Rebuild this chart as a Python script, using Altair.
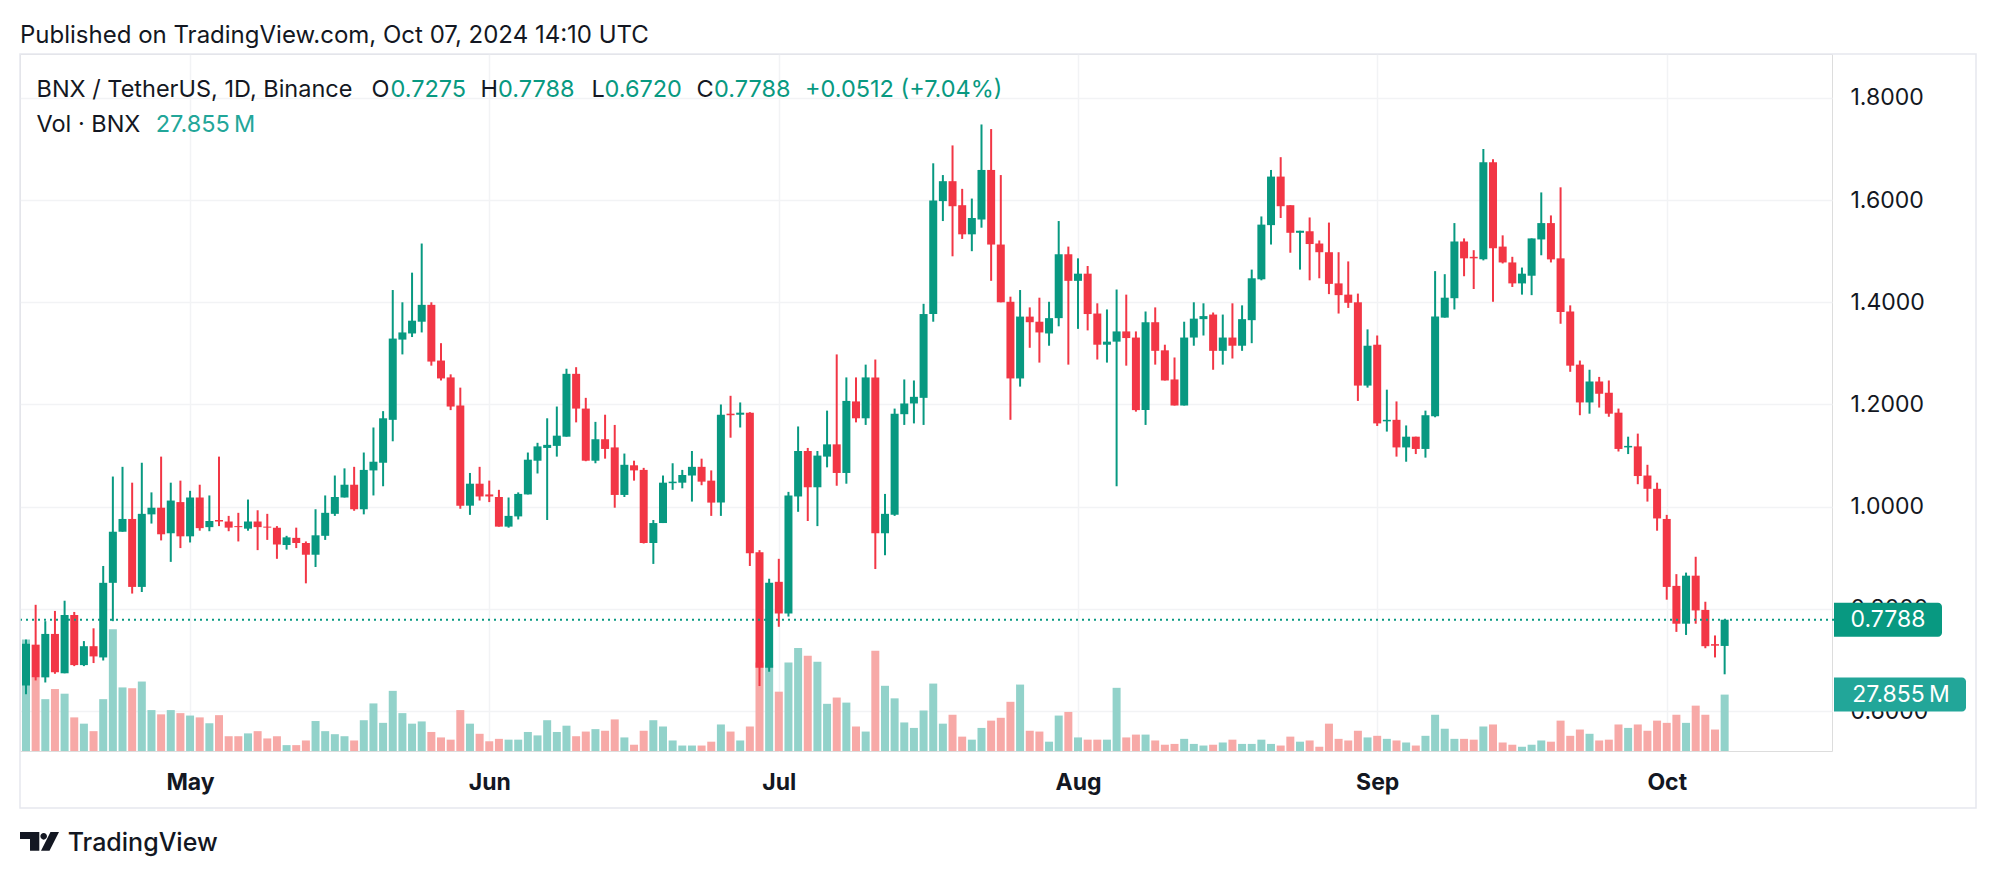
import altair as alt
import pandas as pd
from datetime import datetime, timezone

# ---------------- data (daily candles, BNX/USDT, Binance) ----------------
START = "2024-04-14"
open_ = [0.650,0.730,0.666,0.751,0.674,0.788,0.690,0.727,0.705,0.851,
         0.951,0.976,0.843,0.985,0.998,0.948,1.009,0.942,1.018,0.960,
         0.974,0.971,0.962,0.957,0.971,0.961,0.959,0.925,0.939,0.929,
         0.906,0.943,0.986,1.018,1.043,0.995,1.071,1.086,1.170,1.327,
         1.339,1.362,1.395,1.286,1.253,1.198,1.002,1.045,1.024,1.019,
         0.961,0.981,1.024,1.090,1.115,1.119,1.137,1.260,1.192,1.090,
         1.132,1.116,1.023,1.081,1.072,0.929,0.968,1.046,1.047,1.061,
         1.078,1.051,1.008,1.182,1.180,1.184,0.911,0.685,0.853,0.791,
         1.020,1.109,1.038,1.098,1.122,1.066,1.206,1.173,1.253,0.948,
         0.984,1.181,1.202,1.213,1.377,1.598,1.637,1.590,1.533,1.562,
         1.659,1.513,1.401,1.251,1.372,1.362,1.339,1.369,1.494,1.442,
         1.456,1.378,1.317,1.323,1.343,1.331,1.189,1.361,1.306,1.249,
         1.198,1.331,1.367,1.376,1.305,1.331,1.315,1.365,1.445,1.551,
         1.646,1.590,1.536,1.539,1.515,1.498,1.437,1.415,1.400,1.237,
         1.317,1.167,1.170,1.116,1.137,1.113,1.177,1.370,1.408,1.519,
         1.489,1.484,1.674,1.509,1.478,1.437,1.452,1.523,1.555,1.486,
         1.382,1.278,1.204,1.245,1.223,1.184,1.116,1.118,1.061,1.035,
         0.976,0.845,0.771,0.865,0.798,0.731,0.7275]
high = [0.740,0.808,0.776,0.796,0.816,0.794,0.737,0.762,0.884,1.059,
        1.078,1.047,1.086,1.028,1.098,1.047,1.051,1.031,1.043,1.022,
        1.098,0.982,0.988,1.014,0.993,0.986,0.962,0.943,0.959,0.932,
        0.995,1.022,1.061,1.075,1.078,1.106,1.155,1.187,1.424,1.400,
        1.458,1.515,1.400,1.320,1.259,1.233,1.066,1.078,1.051,1.033,
        1.018,1.028,1.106,1.125,1.173,1.196,1.270,1.273,1.213,1.166,
        1.180,1.160,1.104,1.090,1.076,0.974,1.061,1.085,1.072,1.109,
        1.094,1.071,1.200,1.217,1.204,1.185,0.915,0.859,0.898,1.029,
        1.157,1.115,1.109,1.188,1.298,1.253,1.253,1.278,1.288,1.025,
        1.192,1.249,1.247,1.397,1.672,1.649,1.707,1.622,1.603,1.748,
        1.739,1.649,1.411,1.424,1.390,1.409,1.401,1.559,1.509,1.486,
        1.471,1.398,1.386,1.425,1.415,1.343,1.382,1.390,1.317,1.292,
        1.362,1.400,1.398,1.380,1.376,1.398,1.394,1.464,1.568,1.659,
        1.684,1.590,1.540,1.566,1.521,1.556,1.498,1.480,1.417,1.347,
        1.335,1.229,1.206,1.159,1.137,1.188,1.461,1.455,1.555,1.525,
        1.502,1.700,1.680,1.531,1.489,1.468,1.525,1.615,1.570,1.625,
        1.394,1.286,1.268,1.254,1.247,1.192,1.137,1.143,1.082,1.047,
        0.984,0.868,0.871,0.902,0.814,0.748,0.7788]
low = [0.633,0.660,0.656,0.673,0.674,0.688,0.688,0.694,0.699,0.776,
       0.951,0.830,0.833,0.967,0.934,0.892,0.919,0.930,0.953,0.952,
       0.962,0.952,0.932,0.953,0.915,0.935,0.898,0.916,0.919,0.850,
       0.882,0.935,0.982,1.018,0.992,0.985,1.022,1.040,1.128,1.298,
       1.332,1.341,1.276,1.247,1.189,0.996,0.984,1.012,1.009,0.961,
       0.959,0.975,1.024,1.065,0.974,1.098,1.137,1.165,1.089,1.085,
       1.094,0.998,1.019,1.051,0.928,0.888,0.968,1.033,1.036,1.010,
       1.042,0.982,0.982,1.135,1.155,0.884,0.649,0.677,0.765,0.785,
       0.990,0.972,0.962,1.077,1.041,1.045,1.165,1.160,0.878,0.905,
       0.982,1.160,1.163,1.160,1.362,1.559,1.490,1.524,1.500,1.546,
       1.442,1.400,1.170,1.235,1.311,1.282,1.315,1.353,1.278,1.348,
       1.345,1.288,1.282,1.040,1.276,1.186,1.160,1.278,1.247,1.198,
       1.198,1.315,1.335,1.268,1.278,1.290,1.305,1.320,1.443,1.513,
       1.565,1.497,1.464,1.443,1.447,1.416,1.378,1.389,1.207,1.233,
       1.158,1.147,1.098,1.088,1.103,1.096,1.175,1.370,1.386,1.451,
       1.426,1.482,1.401,1.476,1.430,1.415,1.414,1.492,1.478,1.358,
       1.264,1.179,1.182,1.194,1.176,1.108,1.103,1.044,1.010,0.953,
       0.818,0.755,0.749,0.771,0.723,0.705,0.6720]
close = [0.732,0.666,0.751,0.676,0.788,0.690,0.727,0.707,0.851,0.951,
         0.976,0.843,0.986,0.998,0.946,1.012,0.942,1.018,0.958,0.972,
         0.971,0.959,0.960,0.971,0.960,0.959,0.926,0.940,0.929,0.906,
         0.944,0.988,1.019,1.043,0.995,1.072,1.088,1.173,1.329,1.341,
         1.364,1.395,1.284,1.251,1.196,1.002,1.045,1.020,1.020,0.961,
         0.982,1.025,1.092,1.118,1.121,1.139,1.260,1.192,1.090,1.132,
         1.113,1.023,1.082,1.071,0.929,0.968,1.047,1.049,1.062,1.078,
         1.049,1.008,1.180,1.179,1.184,0.909,0.685,0.851,0.791,1.022,
         1.109,1.038,1.100,1.122,1.066,1.207,1.173,1.253,0.948,0.986,
         1.182,1.202,1.215,1.377,1.599,1.637,1.588,1.533,1.565,1.659,
         1.513,1.400,1.251,1.372,1.361,1.341,1.369,1.494,1.442,1.456,
         1.377,1.317,1.323,1.343,1.330,1.189,1.361,1.305,1.247,1.198,
         1.331,1.368,1.373,1.305,1.331,1.315,1.367,1.447,1.552,1.646,
         1.588,1.536,1.540,1.514,1.498,1.436,1.414,1.399,1.237,1.315,
         1.163,1.170,1.116,1.137,1.113,1.179,1.372,1.409,1.519,1.486,
         1.486,1.674,1.506,1.478,1.437,1.456,1.525,1.555,1.484,1.381,
         1.276,1.204,1.245,1.221,1.182,1.113,1.119,1.060,1.035,0.977,
         0.843,0.771,0.865,0.797,0.727,0.728,0.7788]
volume_m = [55.1,36.4,25.6,30.6,28.3,16.6,13.5,9.8,25.6,60.1,
            31.4,31.0,34.3,20.2,18.1,20.2,18.7,17.5,16.6,13.7,
            17.7,7.3,7.3,8.7,9.8,6.2,7.3,2.9,2.9,5.2,
            14.8,9.8,8.3,7.3,5.2,15.2,23.5,13.9,29.7,18.7,
            13.5,14.6,9.4,6.7,5.6,20.2,13.5,8.5,4.8,6.0,
            5.6,5.6,9.4,7.7,15.2,9.4,12.5,7.3,9.6,10.8,
            10.0,15.6,6.7,3.1,10.0,15.2,12.1,5.2,2.7,2.7,
            2.7,4.6,13.1,9.6,5.2,12.1,43.7,42.6,29.3,43.7,
            50.9,47.0,44.1,23.3,26.4,23.9,12.1,9.6,49.5,32.2,
            26.0,14.1,11.4,20.0,33.3,13.5,17.9,7.1,5.6,11.4,
            15.0,16.4,24.3,32.8,10.0,9.6,4.6,17.5,19.3,6.7,
            5.6,5.6,5.6,31.2,6.7,8.1,8.1,5.2,3.1,3.5,
            6.0,3.5,2.7,3.1,4.2,5.6,3.5,3.5,5.6,3.5,
            2.7,7.1,4.6,5.2,2.1,13.5,6.0,5.2,10.0,6.7,
            7.5,6.0,5.2,4.2,2.7,7.5,17.9,11.0,6.0,6.0,
            5.6,12.1,13.1,4.2,3.1,2.1,3.1,5.2,4.6,15.0,
            7.5,10.6,8.5,5.2,5.6,13.1,11.4,13.1,10.0,15.0,
            13.9,17.9,13.9,22.4,17.9,10.6,27.855]

MONTHS = ["2024-05-01", "2024-06-01", "2024-07-01", "2024-08-01", "2024-09-01", "2024-10-01"]
PRICE_TICKS = [0.6, 0.8, 1.0, 1.2, 1.4, 1.6, 1.8]
LAST_PRICE = 0.7788
LAST_VOL = 27.855
HEADER = "Published on TradingView.com, Oct 07, 2024 14:10 UTC"
LEGEND_PARTS = [("BNX / TetherUS, 1D, Binance", "dark", 16.5),
                ("O", "dark", 351.5), ("0.7275", "green", 370.5),
                ("H", "dark", 460.5), ("0.7788", "green", 478),
                ("L", "dark", 571.5), ("0.6720", "green", 584.5),
                ("C", "dark", 676.5), ("0.7788", "green", 694),
                ("+0.0512 (+7.04%)", "green", 785)]

# ---------------- styling ----------------
GREEN = "#089981"
RED = "#F23645"
VGREEN = "#92D2CA"
VRED = "#F7A9A7"
VOLTXT = "#22A699"
DARK = "#131722"
GRID = "#F2F3F5"
FONT = "Inter"

W, H = 1812, 697
PX_PER_DAY = 9.705
DAY_MS = 86400000

dates = pd.date_range(START, periods=len(close), freq="D")
df = pd.DataFrame({
    "date": dates.strftime("%Y-%m-%d"),
    "open": open_, "high": high, "low": low, "close": close, "volume": volume_m,
})

def utc_ms(s):
    d = datetime.strptime(s, "%Y-%m-%d").replace(tzinfo=timezone.utc)
    return int(d.timestamp() * 1000)

t0 = utc_ms(START)
x_domain = [t0 - DAY_MS / PX_PER_DAY, t0 + (W - 1) / PX_PER_DAY * DAY_MS]
month_vals = [utc_ms(m) for m in MONTHS]

x_enc = alt.X(
    "date:T",
    scale=alt.Scale(type="utc", domain=x_domain, nice=False),
    axis=alt.Axis(values=month_vals, labelExpr="utcFormat(datum.value, '%b')",
                  title=None, domain=False, ticks=False, tickSize=0,
                  labelPadding=31, labelBaseline="middle", labelFont=FONT,
                  labelFontSize=23, labelFontWeight="bold", labelColor=DARK,
                  grid=True, gridColor=GRID, gridWidth=1.5, labelFlush=False),
)
P_LO, P_HI = 0.5219, 1.8859
price_scale = alt.Scale(domain=[P_LO, P_HI], nice=False, zero=False)
price_axis = alt.Axis(orient="right", values=PRICE_TICKS, format=".4f",
                      title=None, domain=False, ticks=False, tickSize=0,
                      labelPadding=18, labelFont=FONT, labelFontSize=23,
                      labelColor=DARK, grid=True, gridColor=GRID, gridWidth=1.5)
vol_scale = alt.Scale(domain=[0, 344.2], nice=False)

up = "datum.close >= datum.open"
base = alt.Chart(df)

wicks = base.mark_rule(strokeWidth=2, clip=True).encode(
    x=x_enc,
    y=alt.Y("low:Q", scale=price_scale, axis=price_axis),
    y2="high:Q",
    color=alt.condition(up, alt.value(GREEN), alt.value(RED)),
)
bodies = base.mark_bar(size=8, clip=True).encode(
    x=x_enc,
    y=alt.Y("open:Q", scale=price_scale, axis=price_axis),
    y2="close:Q",
    color=alt.condition(up, alt.value(GREEN), alt.value(RED)),
)
last_line = alt.Chart(pd.DataFrame({"p": [LAST_PRICE]})).mark_rule(
    color=GREEN, strokeWidth=2, strokeDash=[2, 4]).encode(
    x=alt.value(0), x2=alt.value(1814),
    y=alt.Y("p:Q", scale=price_scale, axis=price_axis),
)
box_half = 17 / (H / (P_HI - P_LO))
price_box = alt.Chart(pd.DataFrame({"a": [LAST_PRICE + box_half], "b": [LAST_PRICE - box_half]})).mark_rect(
    color=GREEN, cornerRadiusTopRight=4, cornerRadiusBottomRight=4).encode(
    x=alt.value(1814), x2=alt.value(1922),
    y=alt.Y("a:Q", scale=price_scale, axis=price_axis), y2="b:Q",
)
price_box_text = alt.Chart(pd.DataFrame({"p": [LAST_PRICE], "t": [f"{LAST_PRICE:.4f}"]})).mark_text(
    color="white", font=FONT, fontSize=23, align="center", baseline="middle").encode(
    x=alt.value(1868), y=alt.Y("p:Q", scale=price_scale, axis=price_axis), text="t:N",
)
price_layer = alt.layer(wicks, bodies, last_line, price_box, price_box_text)

vol_bars = base.mark_bar(size=8, clip=True).encode(
    x=x_enc,
    y=alt.Y("volume:Q", scale=vol_scale, axis=None),
    color=alt.condition(up, alt.value(VGREEN), alt.value(VRED)),
)
vhalf = 17 / (H / 344.2)
vol_box = alt.Chart(pd.DataFrame({"a": [LAST_VOL + vhalf], "b": [LAST_VOL - vhalf]})).mark_rect(
    color=VOLTXT, cornerRadiusTopRight=4, cornerRadiusBottomRight=4).encode(
    x=alt.value(1814), x2=alt.value(1946),
    y=alt.Y("a:Q", scale=vol_scale, axis=None), y2="b:Q",
)
vol_box_text = alt.Chart(pd.DataFrame({"v": [LAST_VOL], "t": [f"{LAST_VOL:.3f}\u2009M"]})).mark_text(
    color="white", font=FONT, fontSize=23, align="center", baseline="middle").encode(
    x=alt.value(1881), y=alt.Y("v:Q", scale=vol_scale, axis=None), text="t:N",
)
vol_layer = alt.layer(vol_bars, vol_box, vol_box_text)

# ---------------- decorations ----------------
one = pd.DataFrame({"k": [0]})
frame = alt.Chart(one).mark_rect(fill="transparent", stroke="#E6E8EE", strokeWidth=1.5).encode(
    x=alt.value(0), x2=alt.value(1956), y=alt.value(0), y2=alt.value(754))

def txt(s, x, y, color, size, weight="normal"):
    return alt.Chart(one).mark_text(
        text=s, align="left", baseline="alphabetic", font=FONT, fontSize=size,
        fontWeight=weight, color=color).encode(x=alt.value(x), y=alt.value(y))

header = txt(HEADER, 0, -11, DARK, 24)
legend_layers = [txt(s, x, 42.7, DARK if c == "dark" else GREEN, 23.5) for s, c, x in LEGEND_PARTS]
vol_legend = [txt("Vol · BNX", 16.5, 77.5, DARK, 23.5), txt("27.855\u2009M", 135.7, 77.5, VOLTXT, 23.5)]

logo_path = ("M -1 -0.48 L -0.01 -0.48 L -0.01 0.48 L -0.487 0.48 L -0.487 -0.12 L -1 -0.12 Z "
             "M 0.046 -0.259 A 0.169 0.169 0 1 0 0.384 -0.259 A 0.169 0.169 0 1 0 0.046 -0.259 Z "
             "M 0.077 0.48 L 0.513 0.48 L 1 -0.48 L 0.564 -0.48 Z")
logo = alt.Chart(one).mark_point(shape=logo_path, filled=True, size=1521, color=DARK, opacity=1,
                                 strokeWidth=0).encode(x=alt.value(19.5), y=alt.value(787.4))
logo_text = txt("TradingView", 47.7, 797, DARK, 25, 500)

deco = alt.layer(frame, header, *legend_layers, *vol_legend, logo, logo_text)

chart = alt.layer(vol_layer, price_layer, deco).resolve_scale(y="independent").properties(
    width=W, height=H,
    padding={"left": 12, "top": 46, "right": 156, "bottom": 119},
    autosize=alt.AutoSizeParams(type="none"),
).configure_view(stroke=None).configure(background="white")

chart.save("out.html", embed_options={"renderer": "svg", "actions": False})
